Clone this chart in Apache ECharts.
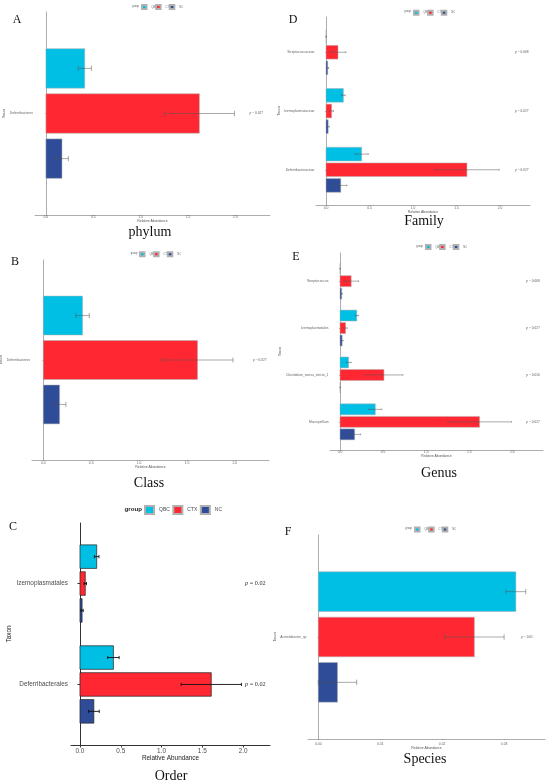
<!DOCTYPE html>
<html>
<head>
<meta charset="utf-8">
<script src="https://cdn.jsdelivr.net/npm/echarts@6/dist/echarts.min.js"></script>
<style>
html, body { margin: 0; padding: 0; background: #fff; }
#main { width: 550px; height: 784px; }
</style>
</head>
<body>
<div id="main"></div>
<script>
const groups = ['QBC', 'CTX', 'NC'];
const groupColors = ['#00BFE4', '#FF2832', '#2E4C98'];

// A - phylum
const phylumCats = ['Deferribacteres'];
const phylumQBC = [0.41], phylumCTX = [1.62], phylumNC = [0.17];
const phylumQBCsd = [0.07], phylumCTXsd = [0.37], phylumNCsd = [0.067];
const phylumP = ['0.027'];

// B - class
const classCats = ['Deferribacteres'];
const classQBC = [0.41], classCTX = [1.61], classNC = [0.17];
const classQBCsd = [0.07], classCTXsd = [0.37], classNCsd = [0.066];
const classP = ['0.027'];

// C - order
const orderCats = ['Deferribacterales', 'Izemoplasmatales'];
const orderQBC = [0.41, 0.205], orderCTX = [1.61, 0.065], orderNC = [0.17, 0.026];
const orderQBCsd = [0.07, 0.028], orderCTXsd = [0.37, 0.015], orderNCsd = [0.066, 0.014];
const orderP = ['0.02', '0.02'];

// D - family
const familyCats = ['Deferribacteraceae', 'Izemoplasmataceae', 'Streptococcaceae'];
const familyQBC = [0.41, 0.2, 0.002], familyCTX = [1.62, 0.065, 0.138], familyNC = [0.17, 0.025, 0.02];
const familyQBCsd = [0.075, 0.02, 0.001], familyCTXsd = [0.37, 0.02, 0.09], familyNCsd = [0.07, 0.012, 0.01];
const familyP = ['0.027', '0.027', '0.008'];

// E - genus
const genusCats = ['Mucispirillum', 'Clostridium_sensu_stricto_1', 'Izemoplasmatales', 'Streptococcus'];
const genusQBC = [0.41, 0.1, 0.195, 0.002], genusCTX = [1.62, 0.51, 0.065, 0.13], genusNC = [0.17, 0.003, 0.025, 0.02];
const genusQBCsd = [0.075, 0.03, 0.02, 0.001], genusCTXsd = [0.37, 0.22, 0.02, 0.085], genusNCsd = [0.07, 0.002, 0.012, 0.01];
const genusP = ['0.027', '0.050', '0.027', '0.008'];

// F - species
const speciesCats = ['Acinetobacter_sp'];
const speciesQBC = [0.0319], speciesCTX = [0.0252], speciesNC = [0.0031];
const speciesQBCsd = [0.0016], speciesCTXsd = [0.0048], speciesNCsd = [0.0031];
const speciesP = ['0.05'];

const abundTicks = [0, 0.5, 1, 1.5, 2];
const speciesTicks = [0, 0.01, 0.02, 0.03];

// bar geometry in category units (dodge 0.8, width 0.7)
const STEP = 0.2667, HALF = 0.1167, CAP = 0.016;

const small = {
  fs: 3.4, text: '#666', name: '#555', axis: '#8a8a8a', axisW: 0.7, tickLen: 1,
  barBorder: '#b0b0b0', barBorderW: 0.5, err: '#555', errW: 0.5, pfs: 3.5, ptext: '#555',
  legFs: 2.6, groupFs: 2.6
};
const big = {
  fs: 6.4, text: '#4d4d4d', name: '#222', axis: '#333', axisW: 1, tickLen: 2.5,
  barBorder: '#222', barBorderW: 0.7, err: '#111', errW: 0.9, pfs: 6.2, ptext: '#333',
  legFs: 5, groupFs: 6.2
};

const panels = [
  { cats: phylumCats, mean: [phylumQBC, phylumCTX, phylumNC], sd: [phylumQBCsd, phylumCTXsd, phylumNCsd], p: phylumP,
    st: small, grid: { left: 35, top: 12, width: 235, height: 203 }, xMin: -0.115, xMax: 2.365, ticks: abundTicks, dec: 1,
    pX: 2.22, xMargin: 0.8, nameGap: 4.3, taxonGap: 27, yMargin: 2,
    legend: { left: 141, top: 4, w: 4.5, h: 4, gap: -2 }, groupLbl: [139, 6], letter: ['A', 17, 20], title: ['phylum', 150, 232] },
  { cats: classCats, mean: [classQBC, classCTX, classNC], sd: [classQBCsd, classCTXsd, classNCsd], p: classP,
    st: small, grid: { left: 32, top: 260, width: 237, height: 200 }, xMin: -0.118, xMax: 2.356, ticks: abundTicks, dec: 1,
    pX: 2.26, xMargin: 1.5, nameGap: 5.3, taxonGap: 25, yMargin: 2,
    legend: { left: 139, top: 251.3, w: 4.5, h: 4, gap: -2 }, groupLbl: [137.5, 253.3], letter: ['B', 15, 262], title: ['Class', 149, 483] },
  { cats: orderCats, mean: [orderQBC, orderCTX, orderNC], sd: [orderQBCsd, orderCTXsd, orderNCsd], p: orderP,
    st: big, grid: { left: 71, top: 523, width: 199, height: 222 }, xMin: -0.11, xMax: 2.33, ticks: abundTicks, dec: 1,
    pX: 2.15, xMargin: 3.6, nameGap: 10.5, taxonGap: 55, yMargin: 3,
    legend: { left: 144, top: 505, w: 9, h: 8, gap: 2.5 }, groupLbl: [142, 509.5], letter: ['C', 13, 527], title: ['Order', 171, 776] },
  { cats: familyCats, mean: [familyQBC, familyCTX, familyNC], sd: [familyQBCsd, familyCTXsd, familyNCsd], p: familyP,
    st: small, grid: { left: 316, top: 17, width: 214, height: 188 }, xMin: -0.115, xMax: 2.345, ticks: abundTicks, dec: 1,
    pX: 2.25, xMargin: 1.3, nameGap: 4.3, taxonGap: 28, yMargin: 1.5,
    legend: { left: 413, top: 9.7, w: 4.5, h: 4, gap: -2 }, groupLbl: [411, 11.7], letter: ['D', 293, 20], title: ['Family', 424, 221] },
  { cats: genusCats, mean: [genusQBC, genusCTX, genusNC], sd: [genusQBCsd, genusCTXsd, genusNCsd], p: genusP,
    st: small, grid: { left: 330, top: 253, width: 213, height: 197 }, xMin: -0.116, xMax: 2.356, ticks: abundTicks, dec: 1,
    pX: 2.24, xMargin: 1, nameGap: 5, taxonGap: 42, yMargin: 1.5,
    legend: { left: 425, top: 244, w: 4.5, h: 4, gap: -2 }, groupLbl: [423, 246], letter: ['E', 296, 257], title: ['Genus', 439, 473] },
  { cats: speciesCats, mean: [speciesQBC, speciesCTX, speciesNC], sd: [speciesQBCsd, speciesCTXsd, speciesNCsd], p: speciesP,
    st: small, grid: { left: 308, top: 535, width: 237, height: 204 }, xMin: -0.00166, xMax: 0.0366, ticks: speciesTicks, dec: 2,
    pX: 0.0337, xMargin: 3.3, nameGap: 6, taxonGap: 28, yMargin: 1.5,
    legend: { left: 414, top: 526.5, w: 4.5, h: 4, gap: -2 }, groupLbl: [412, 528.5], letter: ['F', 288, 532], title: ['Species', 425, 759] }
];

function barRenderer(st) {
  return function (params, api) {
    const v = api.value(0), c = api.value(1), sd = api.value(2), k = api.value(3);
    const yc = c + (1 - k) * STEP;
    const a = api.coord([0, yc + HALF]);
    const b = api.coord([v, yc - HALF]);
    const lo = api.coord([v - sd, yc]);
    const hi = api.coord([v + sd, yc]);
    const ct = api.coord([v, yc + CAP])[1], cb = api.coord([v, yc - CAP])[1];
    const ls = { stroke: st.err, lineWidth: st.errW };
    return {
      type: 'group',
      children: [
        { type: 'rect', shape: { x: a[0], y: a[1], width: b[0] - a[0], height: b[1] - a[1] },
          style: { fill: api.visual('color'), stroke: st.barBorder, lineWidth: st.barBorderW } },
        { type: 'line', shape: { x1: lo[0], y1: lo[1], x2: hi[0], y2: hi[1] }, style: ls },
        { type: 'line', shape: { x1: lo[0], y1: ct, x2: lo[0], y2: cb }, style: ls },
        { type: 'line', shape: { x1: hi[0], y1: ct, x2: hi[0], y2: cb }, style: ls }
      ]
    };
  };
}

function pRenderer(pn) {
  const st = pn.st;
  return function (params, api) {
    const pt = api.coord([api.value(0), api.value(1)]);
    return {
      type: 'text', x: pt[0], y: pt[1],
      style: {
        text: '{i|p} = ' + pn.p[params.dataIndex],
        rich: { i: { fontStyle: 'italic', fontFamily: 'Liberation Serif', fontSize: st.pfs, fill: st.ptext } },
        fontFamily: 'Liberation Serif', fontSize: st.pfs, fill: st.ptext,
        align: 'center', verticalAlign: 'middle'
      }
    };
  };
}

const option = {
  animation: false,
  backgroundColor: '#fff',
  grid: [], xAxis: [], yAxis: [], legend: [], series: [], graphic: []
};

panels.forEach((pn, i) => {
  const st = pn.st;
  const catPos = pn.cats.map((c, j) => j + 1);
  option.grid.push(Object.assign({ containLabel: false, outerBoundsMode: 'none' }, pn.grid));
  option.xAxis.push({
    gridIndex: i, type: 'value', min: pn.xMin, max: pn.xMax,
    splitLine: { show: false },
    axisLine: { lineStyle: { color: st.axis, width: st.axisW } },
    axisTick: { show: true, customValues: pn.ticks, length: st.tickLen, lineStyle: { color: st.axis, width: st.axisW } },
    axisLabel: { customValues: pn.ticks, formatter: v => v.toFixed(pn.dec), fontSize: st.fs, color: st.text,
      margin: pn.xMargin, fontFamily: 'Liberation Sans' },
    name: 'Relative Abundance', nameLocation: 'middle', nameGap: pn.nameGap,
    nameTextStyle: { fontSize: st.fs, color: st.name, fontFamily: 'Liberation Sans' }
  });
  option.yAxis.push({
    gridIndex: i, type: 'value', min: 0.4, max: pn.cats.length + 0.6,
    splitLine: { show: false },
    axisLine: { lineStyle: { color: st.axis, width: st.axisW } },
    axisTick: { show: true, customValues: catPos, length: st.tickLen, lineStyle: { color: st.axis, width: st.axisW } },
    axisLabel: { customValues: catPos, formatter: v => pn.cats[Math.round(v) - 1], fontSize: st.fs, color: st.text,
      margin: pn.yMargin, fontFamily: 'Liberation Sans' },
    name: 'Taxon', nameLocation: 'middle', nameRotate: 90, nameGap: pn.taxonGap,
    nameTextStyle: { fontSize: st.fs, color: st.name, fontFamily: 'Liberation Sans' }
  });
  option.legend.push({
    data: groups, left: pn.legend.left, top: pn.legend.top, padding: 0, icon: 'rect',
    itemWidth: pn.legend.w, itemHeight: pn.legend.h, itemGap: pn.legend.gap, selectedMode: false,
    textStyle: { fontSize: st.legFs, color: st.text, fontFamily: 'Liberation Sans' }
  });
  groups.forEach((g, k) => {
    option.series.push({
      type: 'custom', name: g, coordinateSystem: 'cartesian2d', xAxisIndex: i, yAxisIndex: i,
      itemStyle: { color: groupColors[k], borderColor: st.barBorder, borderWidth: st.barBorderW },
      encode: { x: 0, y: 1 },
      data: pn.cats.map((c, j) => [pn.mean[k][j], j + 1, pn.sd[k][j], k]),
      renderItem: barRenderer(st)
    });
  });
  option.series.push({
    type: 'custom', name: 'pvalue', coordinateSystem: 'cartesian2d', xAxisIndex: i, yAxisIndex: i,
    encode: { x: 0, y: 1 }, silent: true,
    data: pn.p.map((p, j) => [pn.pX, j + 1]),
    renderItem: pRenderer(pn)
  });
  option.graphic.push(
    { type: 'text', x: pn.letter[1], y: pn.letter[2], silent: true,
      style: { text: pn.letter[0], fontFamily: 'Liberation Serif', fontSize: 12, fill: '#111', align: 'center', verticalAlign: 'middle' } },
    { type: 'text', x: pn.title[1], y: pn.title[2], silent: true,
      style: { text: pn.title[0], fontFamily: 'Liberation Serif', fontSize: 14, fill: '#111', align: 'center', verticalAlign: 'middle' } },
    { type: 'text', x: pn.groupLbl[0], y: pn.groupLbl[1], silent: true,
      style: { text: 'group', fontFamily: 'Liberation Sans', fontSize: st.groupFs, fontWeight: st === big ? 'bold' : 'normal',
        fill: st === big ? '#222' : '#555', align: 'right', verticalAlign: 'middle' } }
  );
});

const chart = echarts.init(document.getElementById('main'));
chart.setOption(option);
</script>
</body>
</html>
